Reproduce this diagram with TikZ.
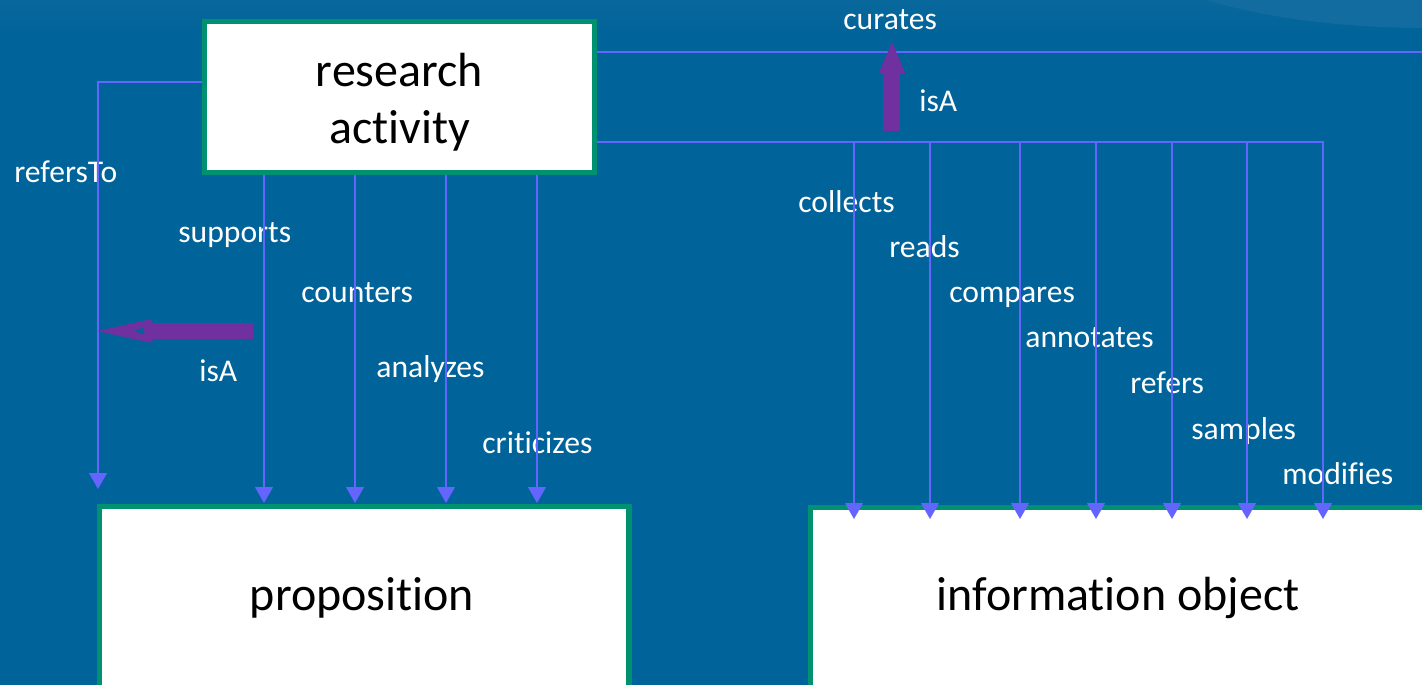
\documentclass[tikz,border=0pt]{standalone}
\usepackage{fontspec}
\setmainfont{Carlito}[Ligatures=NoCommon]
\usetikzlibrary{arrows.meta}
\definecolor{bg}{RGB}{0,99,153}
\definecolor{bgtop}{RGB}{10,105,157}
\definecolor{swoosh}{RGB}{18,108,160}
\definecolor{conn}{RGB}{100,100,255}
\definecolor{boxgreen}{RGB}{0,146,112}
\definecolor{isapurple}{RGB}{112,48,160}
\tikzset{
  conn/.style={draw=conn, line width=1.1pt},
  connarrow/.style={conn, -{Triangle[width=10pt,length=9pt]}},
  lbl/.style={text=white, font=\fontsize{18}{21}\selectfont, anchor=base west, inner sep=0pt},
  conceptbox/.style={draw=boxgreen, fill=white, line width=2.9pt, rectangle, inner sep=0pt},
  boxtext/.style={text=black, font=\fontsize{27.3}{32.4}\selectfont, align=center, inner sep=0pt},
  isa/.style={fill=isapurple, draw=none},
}
\begin{document}
\begin{tikzpicture}[x=0.02cm, y=-0.02cm]
\useasboundingbox (0,0) rectangle (1422,684);
\clip (0,0) rectangle (1422,684);
% background
\fill[bg] (-5,-5) rectangle (1430,690);
\shade[top color=bgtop, bottom color=bg] (-5,-5) rectangle (1430,35);
\fill[swoosh] (1190,-5) .. controls (1260,18) and (1340,28) .. (1430,28) -- (1430,-5) -- cycle;

% labels
\node[lbl] (lcurates) at (843,29) {curates};
\node[lbl] (lisatop) at (919,111) {isA};
\node[lbl] (lrefersTo) at (14,182) {refersTo};
\node[lbl] (lsupports) at (178,242) {supports};
\node[lbl] (lcounters) at (301,302) {counters};
\node[lbl] (lisaleft) at (199,381) {isA};
\node[lbl] (lanalyzes) at (376,377) {analyzes};
\node[lbl] (lcriticizes) at (482,453) {criticizes};
\node[lbl] (lcollects) at (798,212) {collects};
\node[lbl] (lreads) at (889,257) {reads};
\node[lbl] (lcompares) at (949,302) {compares};
\node[lbl] (lannotates) at (1025,347) {annotates};
\node[lbl] (lrefers) at (1130,393) {refers};
\node[lbl] (lsamples) at (1191,439) {samples};
\node[lbl] (lmodifies) at (1282,484) {modifies};

% boxes (named nodes)
\node[conceptbox, minimum width=7.8cm, minimum height=3.02cm] (ra) at (399.5,97) {};
\node[conceptbox, minimum width=10.6cm, minimum height=6cm, anchor=north west] (prop) at (96.5,503.5) {};
\node[conceptbox, minimum width=14cm, minimum height=6cm, anchor=north west] (info) at (807.5,504.5) {};

% connector endpoints
\coordinate (refEnd) at (98,489);
\coordinate (curEnd) at (1430,52);
\coordinate (p1) at (264,503);
\coordinate (p2) at (355,503);
\coordinate (p3) at (446,503);
\coordinate (p4) at (537,503);
\coordinate (bus) at (597,142);
\coordinate (i1) at (854,519);
\coordinate (i2) at (930,519);
\coordinate (i3) at (1020,519);
\coordinate (i4) at (1096,519);
\coordinate (i5) at (1172,519);
\coordinate (i6) at (1247,519);
\coordinate (i7) at (1323,519);

% connectors (drawn above labels)
\draw[connarrow] (ra.west |- 0,82) -| (refEnd);
\draw[conn] (ra.east |- 0,52) -- (curEnd);
\foreach \p in {p1,p2,p3,p4} \draw[connarrow] (ra.south -| \p) -- (\p);
\draw[connarrow] (ra.east |- bus) -| (i7);
\foreach \p in {i1,i2,i3,i4,i5,i6} \draw[connarrow] (bus -| \p) -- (\p);

% redraw box border above connector ends
\node[conceptbox, minimum width=7.8cm, minimum height=3.02cm] at (ra) {};

% box texts
\node[boxtext] (ratext) at (399.5,102) {research\\activity};
\node[boxtext] (proptext) at (362,598) {proposition};
\node[boxtext] (infotext) at (1118,598) {information object};

% isA block arrows
\fill[isa] (140,323) rectangle (253,339);
\fill[isa] (97,331) -- (152,319) -- (152,343) -- cycle;
\fill[bg] (134,331) -- (144,327.5) -- (144,334.5) -- cycle;
\fill[isa] (883,72) rectangle (900,131);
\fill[isa] (892,42) -- (878.5,74) -- (905.5,74) -- cycle;
\end{tikzpicture}
\end{document}
